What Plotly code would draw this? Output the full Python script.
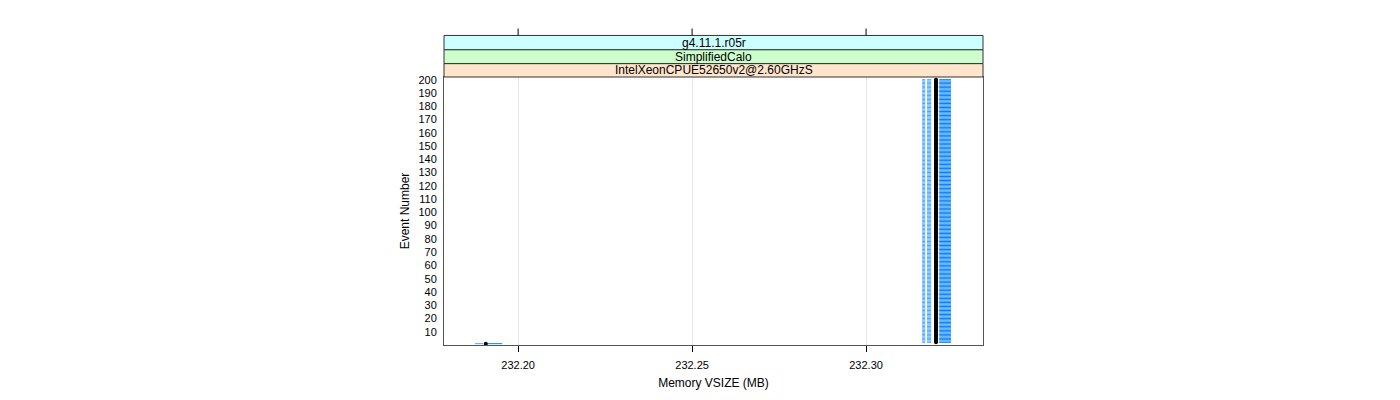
import plotly.graph_objects as go

# ---- data ----
events = list(range(1, 201))
# per-event run spread of memory VSIZE (MB)
median_vsize = [232.1907] + [232.3201] * 199
light_lo = [232.1876] + [232.3161] * 199
light_hi = [232.1899] + [232.3170] * 199
light2_lo = [None] + [232.3175] * 199
light2_hi = [None] + [232.3187] * 199
dark_lo = [232.1910] + [232.3210] * 199
dark_hi = [232.1954] + [232.3244] * 199

x_ticks = [232.20, 232.25, 232.30]
x_tick_labels = ["232.20", "232.25", "232.30"]
y_ticks = list(range(10, 201, 10))
strips = ["g4.11.1.r05r", "SimplifiedCalo", "IntelXeonCPUE52650v2@2.60GHzS"]
strip_colors = ["#CCFFFF", "#CCFFCC", "#FFE5CC"]

X_RANGE = [232.1787, 232.3336]
Y_RANGE = [0, 202]


def segs(lo, hi):
    xs, ys = [], []
    for e, a, b in zip(events, lo, hi):
        if a is None or b is None:
            continue
        xs += [a, b, None]
        ys += [e, e, None]
    return xs, ys


fig = go.Figure()
for lo, hi, col in [(light_lo, light_hi, "rgba(0,128,255,0.7)"),
                    (light2_lo, light2_hi, "rgba(0,128,255,0.7)"),
                    (dark_lo, dark_hi, "rgba(0,128,255,1)")]:
    xs, ys = segs(lo, hi)
    fig.add_trace(go.Scatter(x=xs, y=ys, mode="lines",
                             line=dict(color=col, width=1),
                             hoverinfo="skip", showlegend=False))

fig.add_trace(go.Scatter(x=median_vsize, y=events, mode="markers",
                         marker=dict(color="black", size=4, line=dict(width=0)),
                         showlegend=False))

# panel geometry in px
PLOT_TOP, PLOT_BOTTOM = 77, 348
PH = PLOT_BOTTOM - PLOT_TOP


def py(pix):
    return (PLOT_BOTTOM - pix) / PH


strip_edges = [35, 49.5, 63.5, 77]
shapes = []
annotations = []
for i, (txt, col) in enumerate(zip(strips, strip_colors)):
    y1 = py(strip_edges[i])
    y0 = py(strip_edges[i + 1])
    shapes.append(dict(type="rect", xref="paper", yref="paper", x0=0, x1=1,
                       y0=y0, y1=y1, fillcolor=col,
                       line=dict(color="#333333", width=1), layer="above"))
    annotations.append(dict(text=txt, xref="paper", yref="paper", x=0.5,
                            y=(y0 + y1) / 2, xanchor="center", yanchor="middle",
                            showarrow=False,
                            font=dict(size=12, color="black",
                                      family="Liberation Sans, Arial, sans-serif")))

# top ticks above strips
for t in x_ticks:
    shapes.append(dict(type="line", xref="x", yref="paper", x0=t, x1=t,
                       y0=py(35), y1=py(28), line=dict(color="black", width=1)))

fig.update_layout(
    width=1400, height=400,
    margin=dict(l=444, r=417, t=PLOT_TOP, b=400 - PLOT_BOTTOM),
    paper_bgcolor="white", plot_bgcolor="white",
    font=dict(family="Liberation Sans, Arial, sans-serif", size=11, color="black"),
    shapes=shapes, annotations=annotations,
    xaxis=dict(range=X_RANGE, tickvals=x_ticks, ticktext=x_tick_labels,
               showgrid=True, gridcolor="#E6E6E6", gridwidth=1,
               zeroline=False, showline=True, mirror=True,
               linecolor="#555555", linewidth=1,
               ticks="outside", ticklen=6, tickcolor="black",
               ticklabelstandoff=4,
               title=dict(text="Memory VSIZE (MB)", font=dict(size=12), standoff=8)),
    yaxis=dict(range=Y_RANGE, tickvals=y_ticks,
               showgrid=False, zeroline=False, showline=True, mirror=True,
               linecolor="#555555", linewidth=1,
               ticks="", ticklabelstandoff=4,
               title=dict(text="Event Number", font=dict(size=12), standoff=6)),
)

fig.write_html("out.html")
